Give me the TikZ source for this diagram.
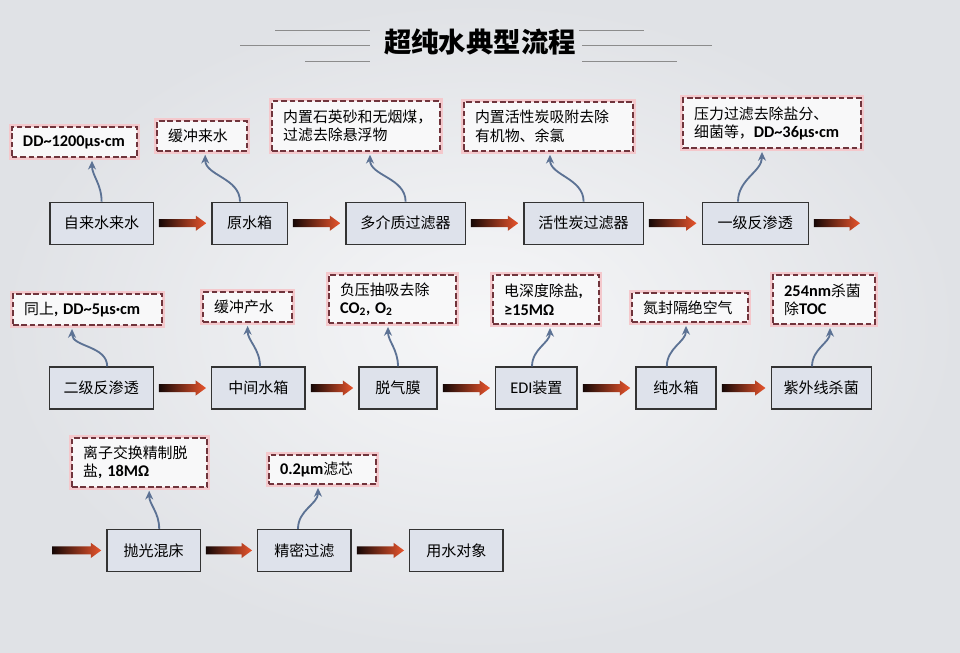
\documentclass[tikz,border=0pt]{standalone}
\usepackage{fontspec}
\setmainfont{Noto Sans CJK SC}
\newfontfamily\latin{Carlito}
\usepackage{tikz}
\usetikzlibrary{calc,arrows.meta}
\definecolor{bgcolor}{RGB}{237,238,241}
\definecolor{bgedge}{RGB}{224,226,230}
\definecolor{unitfill}{RGB}{222,226,235}
\definecolor{notered}{RGB}{112,52,60}
\definecolor{noteglow}{RGB}{244,200,204}
\definecolor{flowdark}{RGB}{22,8,6}
\definecolor{flowred}{RGB}{232,84,44}
\definecolor{tagblue}{RGB}{92,114,148}
\newcommand{\flowgap}{0.13}
\newcommand{\flowshaft}{0.1}
\newcommand{\flowhead}{0.19}
\newcommand{\en}[1]{{\latin\bfseries\fontsize{11.6}{13}\selectfont #1}}
\newcommand{\flow}[2]{%
\path (#1) ++(\flowgap,0) coordinate (fs);
\path (#2) ++(-\flowgap,0) coordinate (fe);
\shade[left color=flowdark, right color=flowred] ($(fs)+(0,\flowshaft)$) -- ($(fe)+(-0.26,\flowshaft)$) -- ($(fe)+(-0.26,\flowhead)$) -- (fe) -- ($(fe)+(-0.26,-\flowhead)$) -- ($(fe)+(-0.26,-\flowshaft)$) -- ($(fs)+(0,-\flowshaft)$) -- cycle;}
\tikzset{
unit/.style={draw=black!80, fill=unitfill, line width=0.8pt, minimum height=1.05cm, inner sep=0pt, font=\fontsize{10.7}{12}\selectfont},
note/.style={draw=notered, dash pattern=on 4pt off 2pt, line width=1.3pt, fill=bgcolor!40!white, preaction={draw=noteglow, line width=4pt, solid}, inner xsep=0.28cm, inner ysep=0pt, text width=#1, align=left, font=\fontsize{10.6}{13}\selectfont},
tag/.style={draw=tagblue, line width=1.3pt, -{Stealth[length=2.2mm,width=2mm]}, shorten >=2pt},
rule/.style={draw=black!45, line width=0.6pt}
}

\begin{document}
\begin{tikzpicture}
\useasboundingbox (0,0) rectangle (24,-16.3);
\shade[inner color=bgcolor!50!white, outer color=bgedge] (0,0) rectangle (24,-16.3);
%title
\node (title) at (12.0, -1.05) {\bfseries\fontsize{19.5}{22}\selectfont 超纯水典型流程};
\draw[rule] (6.875, -0.75) -- (9.25, -0.75);
\draw[rule] (6.0, -1.125) -- (9.25, -1.125);
\draw[rule] (7.625, -1.525) -- (9.25, -1.525);
\draw[rule] (14.475, -0.75) -- (16.1, -0.75);
\draw[rule] (14.55, -1.125) -- (17.8, -1.125);
\draw[rule] (14.55, -1.525) -- (16.925, -1.525);
%row 1
\node[unit, minimum width=2.58cm] (1) at (2.54, -5.58) {自来水来水};
\node[unit, minimum width=1.88cm] (2) at (6.24, -5.58) {原水箱};
\node[unit, minimum width=2.98cm] (3) at (10.14, -5.58) {多介质过滤器};
\node[unit, minimum width=2.98cm] (4) at (14.59, -5.58) {活性炭过滤器};
\node[unit, minimum width=2.65cm] (5) at (18.88, -5.58) {一级反渗透};
\coordinate (end1) at (21.63, -5.58);
\node[note=2.57cm, minimum height=0.75cm] (n1) at (1.86, -3.55) {\en{DD\textasciitilde1200μs·cm}};
\node[note=1.69cm, minimum height=0.75cm] (n2) at (5.05, -3.4) {缓冲来水};
\node[note=3.64cm, minimum height=1.25cm] (n3) at (8.9, -3.15) {内置石英砂和无烟煤，\\过滤去除悬浮物};
\node[note=3.67cm, minimum height=1.23cm] (n4) at (13.71, -3.16) {内置活性炭吸附去除\\有机物、余氯};
\node[note=3.89cm, minimum height=1.25cm] (n5) at (19.3, -3.08) {压力过滤去除盐分、\\细菌等，\en{DD\textasciitilde36μs·cm}};
\flow{1.east}{2.west}
\flow{2.east}{3.west}
\flow{3.east}{4.west}
\flow{4.east}{5.west}
\flow{5.east}{end1}
\draw[tag] (1.north) to[out=90, in=-90] ([xshift=0.44cm]n1.south);
\draw[tag] ([xshift=-0.24cm]2.north) to[out=90, in=-90] ([xshift=0.08cm]n2.south);
\draw[tag] (3.north) to[out=90, in=-90] ([xshift=0.35cm]n3.south);
\draw[tag] (4.north) to[out=90, in=-90] ([xshift=0.04cm]n4.south);
\draw[tag] ([xshift=-0.43cm]5.north) to[out=90, in=-90] ([xshift=-0.25cm]n5.south);
%row 2
\node[unit, minimum width=2.6cm] (6) at (2.53, -9.7) {二级反渗透};
\node[unit, minimum width=2.33cm] (7) at (6.46, -9.7) {中间水箱};
\node[unit, minimum width=1.95cm] (8) at (9.95, -9.7) {脱气膜};
\node[unit, minimum width=2.03cm] (9) at (13.41, -9.7) {{\latin\fontsize{11.6}{13}\selectfont EDI}装置};
\node[unit, minimum width=2.0cm] (10) at (16.9, -9.7) {纯水箱};
\node[unit, minimum width=2.5cm] (11) at (20.53, -9.7) {紫外线杀菌};
\node[note=3.17cm, minimum height=0.78cm] (n6) at (2.19, -7.74) {同上\en{, DD\textasciitilde5μs·cm}};
\node[note=1.67cm, minimum height=0.75cm] (n7) at (6.19, -7.68) {缓冲产水};
\node[note=2.62cm, minimum height=1.2cm] (n8) at (9.81, -7.48) {负压抽吸去除\\\en{CO\textsubscript{2}, O\textsubscript{2}}};
\node[note=2.09cm, minimum height=1.23cm] (n9) at (13.65, -7.49) {电深度除盐\en{,}\\\en{≥15MΩ}};
\node[note=2.34cm, minimum height=0.73cm] (n10) at (17.25, -7.69) {氮封隔绝空气};
\node[note=1.99cm, minimum height=1.23cm] (n11) at (20.6, -7.49) {\en{254nm}杀菌\\除\en{TOC}};
\flow{6.east}{7.west}
\flow{7.east}{8.west}
\flow{8.east}{9.west}
\flow{9.east}{10.west}
\flow{10.east}{11.west}
\draw[tag] ([xshift=0.15cm]6.north) to[out=90, in=-90] ([xshift=-0.39cm]n6.south);
\draw[tag] ([xshift=0.04cm]7.north) to[out=90, in=-90] (n7.south);
\draw[tag] (8.north) to[out=90, in=-90] ([xshift=-0.11cm]n8.south);
\draw[tag] ([xshift=-0.11cm]9.north) to[out=90, in=-90] ([xshift=0.1cm]n9.south);
\draw[tag] ([xshift=-0.23cm]10.north) to[out=90, in=-90] ([xshift=-0.1cm]n10.south);
\draw[tag] ([xshift=-0.23cm]11.north) to[out=90, in=-90] ([xshift=0.15cm]n11.south);
%row 3
\coordinate (start3) at (1.17, -13.76);
\node[unit, minimum width=2.33cm] (12) at (3.84, -13.76) {抛光混床};
\node[unit, minimum width=2.33cm] (13) at (7.61, -13.76) {精密过滤};
\node[unit, minimum width=2.33cm] (14) at (11.41, -13.76) {用水对象};
\node[note=2.82cm, minimum height=1.23cm] (n12) at (3.49, -11.56) {离子交换精制脱\\盐\en{, 18MΩ}};
\node[note=2.12cm, minimum height=0.73cm] (n13) at (8.06, -11.74) {\en{0.2μm}滤芯};
\flow{start3}{12.west}
\flow{12.east}{13.west}
\flow{13.east}{14.west}
\draw[tag] ([xshift=0.14cm]12.north) to[out=90, in=-90] ([xshift=0.24cm]n12.south);
\draw[tag] ([xshift=-0.16cm]13.north) to[out=90, in=-90] ([xshift=-0.11cm]n13.south);
\end{tikzpicture}
\end{document}
